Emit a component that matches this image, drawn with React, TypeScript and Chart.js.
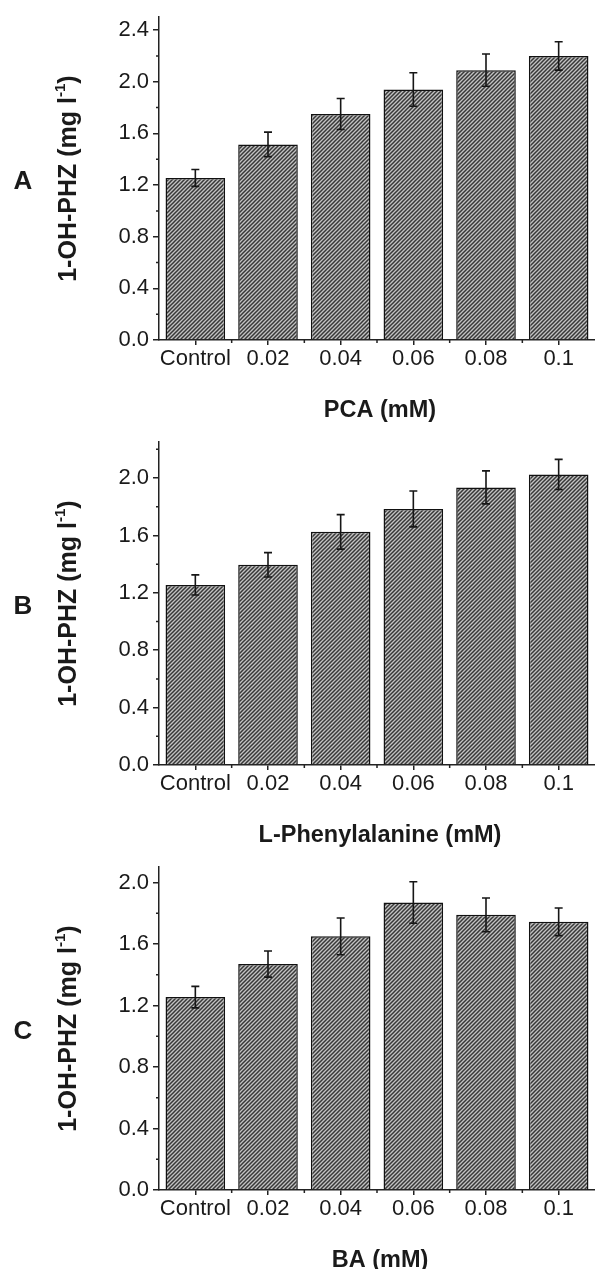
import React, { useEffect, useRef } from "react";
import { Chart, registerables } from "chart.js";

Chart.register(...registerables);

// ---- Data ----
const categories = ["Control", "0.02", "0.04", "0.06", "0.08", "0.1"];

const pcaValues = [1.255, 1.515, 1.75, 1.94, 2.09, 2.2];
const pcaErrors = [0.065, 0.095, 0.12, 0.13, 0.125, 0.11];

const pheValues = [1.255, 1.395, 1.625, 1.785, 1.935, 2.025];
const pheErrors = [0.07, 0.085, 0.12, 0.125, 0.115, 0.105];

const baValues = [1.255, 1.47, 1.65, 1.87, 1.79, 1.745];
const baErrors = [0.07, 0.085, 0.12, 0.135, 0.11, 0.09];

const yTicksA = [0, 0.4, 0.8, 1.2, 1.6, 2.0, 2.4];
const yMinorA = [0.2, 0.6, 1.0, 1.4, 1.8, 2.2];
const yTicksB = [0, 0.4, 0.8, 1.2, 1.6, 2.0];
const yMinorB = [0.2, 0.6, 1.0, 1.4, 1.8, 2.2];
const yTicksC = [0, 0.4, 0.8, 1.2, 1.6, 2.0];
const yMinorC = [0.2, 0.6, 1.0, 1.4, 1.8];

const panelLetters = ["A", "B", "C"];
const xTitles = ["PCA (mM)", "L-Phenylalanine (mM)", "BA (mM)"];
const yTitle = "1-OH-PHZ (mg l";
const yTitleSup = "-1";
const yMaxes = [2.5, 2.25, 2.1];

const FONT = "'Liberation Sans', Arial, Helvetica, sans-serif";
const TEXT = "#1a1a1a";
const AXIS = "#222";

type Panel = {
  letter: string;
  xTitle: string;
  values: number[];
  errors: number[];
  yMax: number;
  yTicks: number[];
  yMinor: number[];
  top: number;
  height: number;
};

const panels: Panel[] = [
  { letter: panelLetters[0], xTitle: xTitles[0], values: pcaValues, errors: pcaErrors, yMax: yMaxes[0], yTicks: yTicksA, yMinor: yMinorA, top: 0, height: 425 },
  { letter: panelLetters[1], xTitle: xTitles[1], values: pheValues, errors: pheErrors, yMax: yMaxes[1], yTicks: yTicksB, yMinor: yMinorB, top: 425, height: 425 },
  { letter: panelLetters[2], xTitle: xTitles[2], values: baValues, errors: baErrors, yMax: yMaxes[2], yTicks: yTicksC, yMinor: yMinorC, top: 850, height: 419 },
];

function makePattern(ctx: CanvasRenderingContext2D): CanvasPattern | string {
  const c = document.createElement("canvas");
  c.width = 4;
  c.height = 4;
  const g = c.getContext("2d");
  if (!g) return "#777";
  g.fillStyle = "#c2c2c2";
  g.fillRect(0, 0, 4, 4);
  g.strokeStyle = "#383838";
  g.lineWidth = 1.5;
  const seg = (x1: number, y1: number, x2: number, y2: number) => {
    g.beginPath();
    g.moveTo(x1, y1);
    g.lineTo(x2, y2);
    g.stroke();
  };
  seg(-1, 5, 5, -1);
  seg(-1, 1, 1, -1);
  seg(3, 5, 5, 3);
  return ctx.createPattern(c, "repeat") || "#777";
}

function PanelChart({ p }: { p: Panel }) {
  const ref = useRef<HTMLCanvasElement | null>(null);

  useEffect(() => {
    const canvas = ref.current;
    if (!canvas) return;
    const ctx = canvas.getContext("2d");
    if (!ctx) return;
    const pattern = makePattern(ctx);
    const H = p.height;
    const axisBottom = 340;

    const decor = {
      id: "decor",
      afterDatasetsDraw(chart: any) {
        const c = chart.ctx;
        const xs = chart.scales.x;
        const ys = chart.scales.y;
        c.save();
        c.strokeStyle = "#161616";
        c.lineWidth = 1.6;
        p.values.forEach((v, i) => {
          const e = p.errors[i];
          const x = xs.getPixelForValue(i);
          const yt = ys.getPixelForValue(v + e);
          const yb = ys.getPixelForValue(v - e);
          c.beginPath();
          c.moveTo(x, yt);
          c.lineTo(x, yb);
          c.moveTo(x - 4, yt);
          c.lineTo(x + 4, yt);
          c.moveTo(x - 4, yb);
          c.lineTo(x + 4, yb);
          c.stroke();
        });
        c.restore();
      },
      afterDraw(chart: any) {
        const c = chart.ctx;
        const xs = chart.scales.x;
        const ys = chart.scales.y;
        const area = chart.chartArea;
        c.save();
        // minor ticks
        c.strokeStyle = AXIS;
        c.lineWidth = 1.5;
        c.beginPath();
        p.yMinor.forEach((v) => {
          const y = ys.getPixelForValue(v);
          c.moveTo(area.left, y);
          c.lineTo(area.left - 3, y);
        });
        for (let i = 0; i < categories.length - 1; i++) {
          const x = (xs.getPixelForValue(i) + xs.getPixelForValue(i + 1)) / 2;
          c.moveTo(x, area.bottom);
          c.lineTo(x, area.bottom + 3);
        }
        c.stroke();

        // x title
        c.fillStyle = TEXT;
        c.font = `bold 23.5px ${FONT}`;
        c.textAlign = "center";
        c.textBaseline = "middle";
        c.fillText(p.xTitle, (area.left + area.right) / 2 + 3, area.bottom + 71);

        // panel letter
        c.font = `bold 26px ${FONT}`;
        c.fillText(p.letter, 23, (area.top + area.bottom) / 2 + 3);

        // y title (rotated) with superscript
        const cy = (area.top + area.bottom) / 2;
        c.translate(69, cy);
        c.rotate(-Math.PI / 2);
        const mainFont = `bold 25px ${FONT}`;
        const supFont = `bold 15px ${FONT}`;
        c.font = mainFont;
        const w1 = c.measureText(yTitle).width;
        const w3 = c.measureText(")").width;
        c.font = supFont;
        const w2 = c.measureText(yTitleSup).width;
        const total = w1 + w2 + w3;
        let x0 = -total / 2;
        c.textAlign = "left";
        c.font = mainFont;
        c.fillText(yTitle, x0, 0);
        x0 += w1;
        c.font = supFont;
        c.fillText(yTitleSup, x0, -8);
        x0 += w2;
        c.font = mainFont;
        c.fillText(")", x0, 0);
        c.restore();
      },
    };

    const chart = new Chart(ctx, {
      type: "bar",
      data: {
        labels: categories,
        datasets: [
          {
            data: p.values,
            backgroundColor: pattern as any,
            borderColor: "#111",
            borderWidth: 1.5,
            barPercentage: 0.82,
            categoryPercentage: 1,
          },
        ],
      },
      options: {
        animation: false,
        responsive: false,
        devicePixelRatio: 1,
        layout: { padding: { top: 13, left: 0, right: 0, bottom: 0 } },
        plugins: { legend: { display: false }, tooltip: { enabled: false } },
        scales: {
          x: {
            grid: {
              display: true,
              drawOnChartArea: false,
              offset: false,
              tickLength: 5,
              color: AXIS,
              lineWidth: 1.5,
            },
            border: { display: true, color: AXIS, width: 1.5 },
            ticks: {
              font: { family: FONT, size: 22 },
              color: TEXT,
              padding: 1,
              maxRotation: 0,
              autoSkip: false,
            },
            afterFit: (s: any) => {
              s.height = H - axisBottom;
            },
          },
          y: {
            min: 0,
            max: p.yMax,
            grid: {
              display: true,
              drawOnChartArea: false,
              tickLength: 6,
              color: AXIS,
              lineWidth: 1.5,
            },
            border: { display: true, color: AXIS, width: 1.5 },
            ticks: {
              font: { family: FONT, size: 22 },
              color: TEXT,
              padding: 4,
              includeBounds: false,
              callback: (v: any) => Number(v).toFixed(1),
            },
            afterBuildTicks: (s: any) => {
              s.ticks = p.yTicks.map((v) => ({ value: v }));
            },
            afterFit: (s: any) => {
              s.width = 159;
            },
          },
        },
      },
      plugins: [decor],
    });

    return () => chart.destroy();
  }, [p]);

  return (
    <canvas
      ref={ref}
      width={595}
      height={p.height}
      style={{ position: "absolute", left: 0, top: p.top, width: 595, height: p.height }}
    />
  );
}

export default function App() {
  return (
    <div style={{ position: "absolute", left: 0, top: 0, width: 595, height: 1269, background: "#fff", overflow: "hidden" }}>
      {panels.map((p) => (
        <PanelChart key={p.letter} p={p} />
      ))}
    </div>
  );
}
